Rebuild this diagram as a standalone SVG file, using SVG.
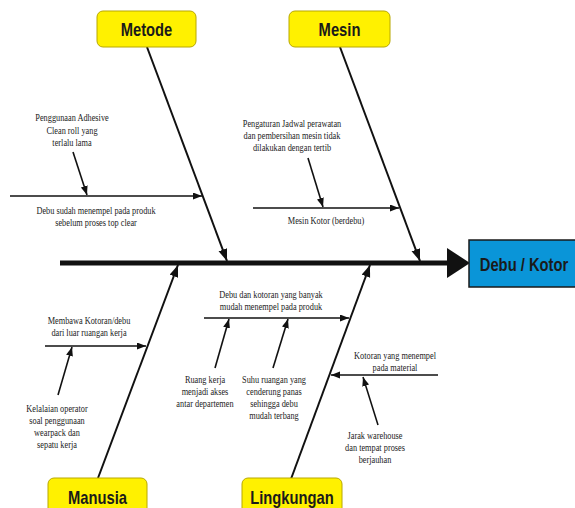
<svg xmlns="http://www.w3.org/2000/svg" width="575" height="508" viewBox="0 0 575 508">
  <defs>
    <style>
      .cat rect { fill: #FFF100; stroke: #B8A800; stroke-width: 1; }
      .cat text, .effect text { font-family: "Liberation Sans", Arial, sans-serif; font-weight: bold; font-size: 18px; fill: #1a1a1a; text-anchor: middle; }
      .effect rect { fill: #0A95D8; stroke: #1a1a1a; stroke-width: 1.5; }
      .bone { stroke: #111; stroke-width: 2; fill: none; marker-end: url(#headL); }
      .sub { stroke: #111; stroke-width: 1.6; fill: none; marker-end: url(#headS); }
      .lbl { font-family: "Liberation Serif", "Times New Roman", serif; font-size: 10px; fill: #222; text-anchor: middle; }
    </style>
    <marker id="headL" markerUnits="userSpaceOnUse" markerWidth="13" markerHeight="10" refX="12" refY="4.5" orient="auto">
      <path d="M0,0 L12,4.5 L0,9 z" fill="#111"/>
    </marker>
    <marker id="headS" markerUnits="userSpaceOnUse" markerWidth="10" markerHeight="8" refX="9" refY="3.5" orient="auto">
      <path d="M0,0 L9,3.5 L0,7 z" fill="#111"/>
    </marker>
  </defs>

  <rect width="575" height="508" fill="#fff"/>

  <!-- connectors: spine, main bones, sub-causes -->
  <g id="connectors">
    <line x1="60" y1="263" x2="450" y2="263" stroke="#111" stroke-width="5"/>
    <polygon points="447,248 470,263 447,278" fill="#111"/>

    <line class="bone" x1="147" y1="47" x2="227" y2="261"/>
    <line class="bone" x1="340" y1="47" x2="420" y2="261"/>
    <line class="bone" x1="98" y1="478" x2="178" y2="265"/>
    <line class="bone" x1="291" y1="479" x2="370" y2="265"/>

    <line class="sub" x1="10" y1="196" x2="202" y2="196"/>
    <line class="sub" x1="73" y1="152" x2="87" y2="195"/>
    <line class="sub" x1="253" y1="208" x2="399" y2="208"/>
    <line class="sub" x1="308" y1="158" x2="323" y2="207"/>
    <line class="sub" x1="45" y1="346" x2="146" y2="346"/>
    <line class="sub" x1="58" y1="395" x2="72" y2="347"/>
    <line class="sub" x1="204" y1="318" x2="349" y2="318"/>
    <line class="sub" x1="215" y1="368" x2="229" y2="319"/>
    <line class="sub" x1="273" y1="368" x2="288" y2="319"/>
    <line class="sub" x1="438" y1="375" x2="331" y2="375"/>
    <line class="sub" x1="378" y1="425" x2="363" y2="377"/>
  </g>

  <!-- category boxes -->
  <g id="metode" class="cat">
    <rect x="97" y="11" width="99" height="36" rx="6"/>
    <text transform="translate(146.5 36) scale(0.82 1)">Metode</text>
  </g>
  <g id="mesin" class="cat">
    <rect x="289" y="11" width="101" height="36" rx="6"/>
    <text transform="translate(339.5 36) scale(0.82 1)">Mesin</text>
  </g>
  <g id="manusia" class="cat">
    <rect x="48" y="478" width="99" height="40" rx="6"/>
    <text transform="translate(97.5 504) scale(0.82 1)">Manusia</text>
  </g>
  <g id="lingkungan" class="cat">
    <rect x="242" y="478" width="100" height="40" rx="6"/>
    <text transform="translate(292 504) scale(0.82 1)">Lingkungan</text>
  </g>

  <!-- effect -->
  <g id="debu-kotor" class="effect">
    <rect x="469" y="240" width="110" height="47"/>
    <text transform="translate(524 271) scale(0.82 1)">Debu / Kotor</text>
  </g>

  <!-- cause labels -->
  <g id="metode-causes" class="lbl">
    <text transform="translate(72 0) scale(0.83 1)"><tspan x="0" y="121">Penggunaan Adhesive</tspan><tspan x="0" y="134">Clean roll yang</tspan><tspan x="0" y="146">terlalu lama</tspan></text>
    <text transform="translate(96 0) scale(0.83 1)"><tspan x="0" y="214">Debu sudah menempel pada produk</tspan><tspan x="0" y="226">sebelum proses top clear</tspan></text>
  </g>
  <g id="mesin-causes" class="lbl">
    <text transform="translate(292 0) scale(0.83 1)"><tspan x="0" y="127">Pengaturan Jadwal perawatan</tspan><tspan x="0" y="139">dan pembersihan mesin tidak</tspan><tspan x="0" y="151">dilakukan dengan tertib</tspan></text>
    <text transform="translate(326 0) scale(0.83 1)"><tspan x="0" y="224">Mesin Kotor (berdebu)</tspan></text>
  </g>
  <g id="manusia-causes" class="lbl">
    <text transform="translate(89 0) scale(0.83 1)"><tspan x="0" y="324">Membawa Kotoran/debu</tspan><tspan x="0" y="336">dari luar ruangan kerja</tspan></text>
    <text transform="translate(57 0) scale(0.83 1)"><tspan x="0" y="412">Kelalaian operator</tspan><tspan x="0" y="424">soal penggunaan</tspan><tspan x="0" y="436">wearpack dan</tspan><tspan x="0" y="448">sepatu kerja</tspan></text>
  </g>
  <g id="lingkungan-causes" class="lbl">
    <text transform="translate(271 0) scale(0.83 1)"><tspan x="0" y="298">Debu dan kotoran yang banyak</tspan><tspan x="0" y="310">mudah menempel pada produk</tspan></text>
    <text transform="translate(205 0) scale(0.83 1)"><tspan x="0" y="383">Ruang kerja</tspan><tspan x="0" y="395">menjadi akses</tspan><tspan x="0" y="407">antar departemen</tspan></text>
    <text transform="translate(274 0) scale(0.83 1)"><tspan x="0" y="383">Suhu ruangan yang</tspan><tspan x="0" y="395">cenderung panas</tspan><tspan x="0" y="407">sehingga debu</tspan><tspan x="0" y="419">mudah terbang</tspan></text>
    <text transform="translate(395 0) scale(0.83 1)"><tspan x="0" y="359">Kotoran yang menempel</tspan><tspan x="0" y="371">pada material</tspan></text>
    <text transform="translate(375 0) scale(0.83 1)"><tspan x="0" y="439">Jarak warehouse</tspan><tspan x="0" y="451">dan tempat proses</tspan><tspan x="0" y="463">berjauhan</tspan></text>
  </g>
</svg>
